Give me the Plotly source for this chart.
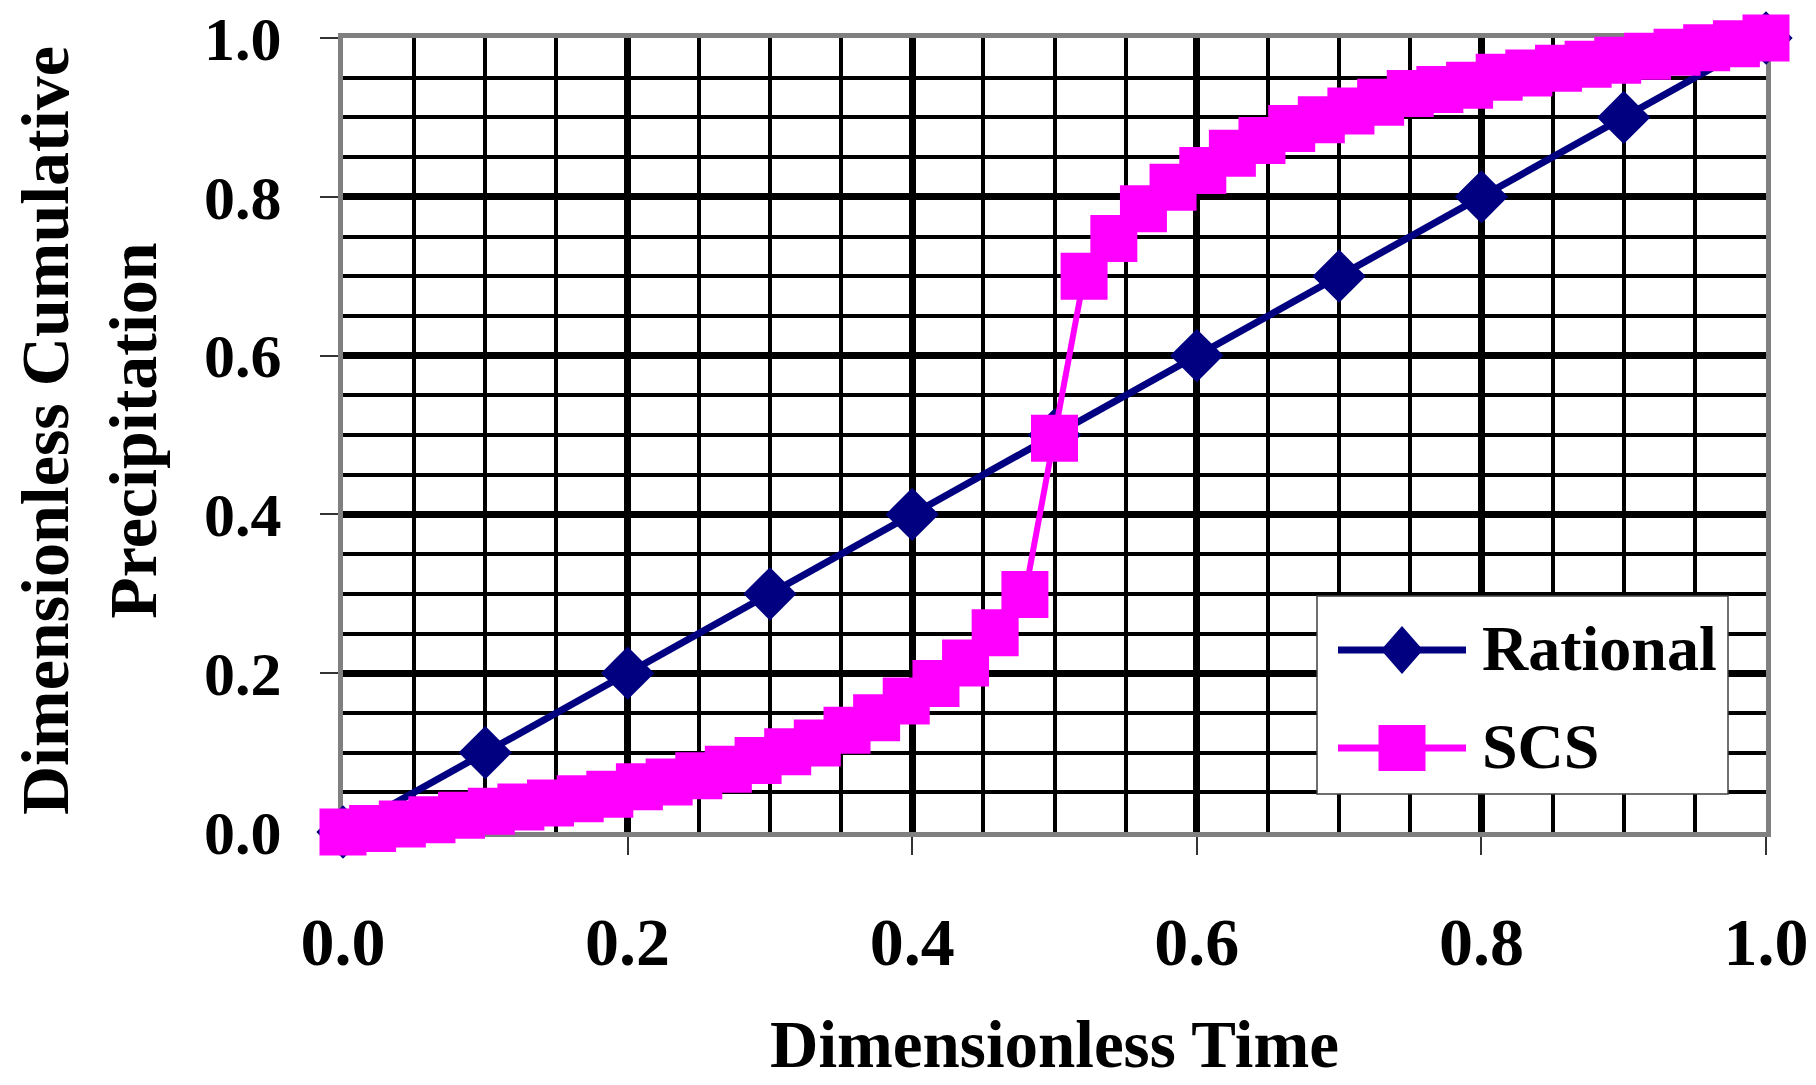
import plotly.graph_objects as go

# ---------------- data ----------------
rational_x = [0.0, 0.1, 0.2, 0.3, 0.4, 0.5, 0.6, 0.7, 0.8, 0.9, 1.0]
rational_y = [0.0, 0.1, 0.2, 0.3, 0.4, 0.5, 0.6, 0.7, 0.8, 0.9, 1.0]

scs_x = [0.0, 0.0208, 0.0417, 0.0625, 0.0833, 0.1042, 0.125, 0.1458, 0.1667, 0.1875,
         0.2083, 0.2292, 0.25, 0.2708, 0.2917, 0.3125, 0.3333, 0.3542, 0.375, 0.3958,
         0.4167, 0.4375, 0.4583, 0.4792, 0.5, 0.5208, 0.5417, 0.5625, 0.5833, 0.6042,
         0.625, 0.6458, 0.6667, 0.6875, 0.7083, 0.7292, 0.75, 0.7708, 0.7917, 0.8125,
         0.8333, 0.8542, 0.875, 0.8958, 0.9167, 0.9375, 0.9583, 0.9792, 1.0]
scs_y = [0.000, 0.0045, 0.010, 0.0155, 0.021, 0.026, 0.0315, 0.0365, 0.042, 0.0475,
         0.057, 0.063, 0.071, 0.079, 0.090, 0.101, 0.112, 0.128, 0.144, 0.165,
         0.187, 0.213, 0.251, 0.299, 0.496, 0.700, 0.7475, 0.785, 0.812, 0.833,
         0.855, 0.871, 0.886, 0.897, 0.908, 0.919, 0.930, 0.935, 0.9405, 0.9505,
         0.956, 0.962, 0.967, 0.972, 0.977, 0.982, 0.9876, 0.9928, 1.000]

tick_vals = [0.0, 0.2, 0.4, 0.6, 0.8, 1.0]
tick_text = ["0.0", "0.2", "0.4", "0.6", "0.8", "1.0"]

series_names = ["Rational", "SCS"]
x_title = "Dimensionless Time"
y_title = "Dimensionless Cumulative<br>Precipitation"

# ---------------- style ----------------
NAVY = "#000080"
MAGENTA = "#FF00FF"
FONT = "Liberation Serif, Times New Roman, serif"

W, H = 1816, 1085
L, R, T, B = 343, 50, 38, 253
PW, PH = W - L - R, H - T - B


def px(X):
    return (X - L) / PW


def py(Y):
    return (H - B - Y) / PH


fig = go.Figure()
fig.add_trace(go.Scatter(
    x=rational_x, y=rational_y, name=series_names[0], mode="lines+markers",
    line=dict(color=NAVY, width=7),
    marker=dict(symbol="diamond", size=41, color=NAVY, line=dict(width=0)),
    cliponaxis=False, showlegend=False))
fig.add_trace(go.Scatter(
    x=scs_x, y=scs_y, name=series_names[1], mode="lines+markers",
    line=dict(color=MAGENTA, width=6),
    marker=dict(symbol="square", size=47, color=MAGENTA, line=dict(width=0)),
    cliponaxis=False, showlegend=False))

axis_common = dict(
    range=[0, 1], showgrid=True, gridcolor="black", gridwidth=7,
    tickvals=tick_vals, ticktext=tick_text,
    minor=dict(dtick=0.05, showgrid=True, gridcolor="black", gridwidth=3.5, ticks=""),
    zeroline=False, showline=True, linecolor="#808080", linewidth=5, mirror=True,
    ticks="outside", ticklen=18, tickwidth=1.5, tickcolor="#333333",
    layer="below traces",
)

fig.update_xaxes(**axis_common,
                 tickfont=dict(family=FONT, size=68, color="black", weight="bold"),
                 ticklabelstandoff=28)
fig.update_yaxes(**axis_common,
                 tickfont=dict(family=FONT, size=62, color="black", weight="bold"),
                 ticklabelstandoff=26)

shapes = []
annotations = []

# custom legend box
shapes.append(dict(type="rect", xref="paper", yref="paper",
                   x0=px(1317), x1=px(1728), y0=py(794), y1=py(596),
                   fillcolor="white", line=dict(color="#404040", width=1.5), layer="above"))
leg_rows = [(650, NAVY, "diamond"), (748, MAGENTA, "square")]
for (Y, col, sym), name in zip(leg_rows, series_names):
    shapes.append(dict(type="line", xref="paper", yref="paper",
                       x0=px(1338), x1=px(1466), y0=py(Y), y1=py(Y),
                       line=dict(color=col, width=7), layer="above"))
    if sym == "diamond":
        path = "M -21 0 L 0 -24 L 21 0 L 0 24 Z"
    else:
        path = "M -23.5 -23 L 23.5 -23 L 23.5 23 L -23.5 23 Z"
    shapes.append(dict(type="path", xref="paper", yref="paper",
                       xsizemode="pixel", ysizemode="pixel",
                       xanchor=px(1402), yanchor=py(Y), path=path,
                       fillcolor=col, line=dict(width=0), layer="above"))
    annotations.append(dict(text=name, xref="paper", yref="paper",
                            x=px(1480), y=py(Y - 2), xanchor="left", yanchor="middle",
                            showarrow=False,
                            font=dict(family=FONT, size=64, color="black", weight="bold")))

# axis titles
annotations.append(dict(text=x_title, xref="paper", yref="paper",
                        x=px(1054), y=py(1044), xanchor="center", yanchor="middle",
                        showarrow=False,
                        font=dict(family=FONT, size=67, color="black", weight="bold")))
annotations.append(dict(text=y_title, xref="paper", yref="paper",
                        x=px(89), y=py(431), xanchor="center", yanchor="middle",
                        textangle=-90, showarrow=False, align="center",
                        font=dict(family=FONT, size=68, color="black", weight="bold")))

fig.update_layout(
    width=W, height=H,
    margin=dict(l=L, r=R, t=T, b=B, autoexpand=False),
    paper_bgcolor="white", plot_bgcolor="white",
    showlegend=False,
    shapes=shapes, annotations=annotations,
)

fig.write_html("out.html")
